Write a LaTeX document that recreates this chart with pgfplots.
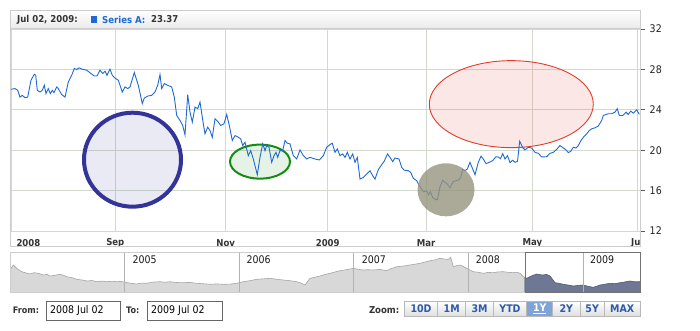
\documentclass[border=0pt]{standalone}
\usepackage{pgfplots}
\pgfplotsset{compat=1.18}
\usepackage{fontspec}
\setmainfont{DejaVu Sans Condensed}
\definecolor{serA}{RGB}{30,105,210}
\definecolor{gridc}{RGB}{212,217,208}
\definecolor{framec}{RGB}{205,205,205}
\definecolor{txt}{RGB}{51,51,51}
\definecolor{btnblue}{RGB}{45,90,170}
\definecolor{selbg}{RGB}{128,164,217}
\definecolor{scrsel}{RGB}{110,120,148}
\definecolor{scrfill}{RGB}{216,216,216}
\definecolor{scrline}{RGB}{165,165,165}
\definecolor{circB}{RGB}{51,51,153}
\definecolor{circG}{RGB}{20,140,20}
\definecolor{circR}{RGB}{225,60,40}
\definecolor{circK}{RGB}{150,148,126}
\begin{document}
\begin{tikzpicture}[x=1pt,y=1pt]
\path[use as bounding box] (0,0) rectangle (700,330);
% header bar
\shade[top color=white, bottom color=black!8] (10.7,301.7) rectangle (640.7,320);
\begin{axis}[
  at={(11pt,99pt)}, anchor=south west,
  width=629.7pt, height=202pt, scale only axis,
  xmin=11, xmax=640.7, ymin=12, ymax=32,
  axis line style={draw=none},
  /pgf/number format/assume math mode=true,
  xtick={115.3,225.7,327.7,426,532.3,637.3},
  xticklabels={Sep,Nov,2009,Mar,May,Jul},
  extra x ticks={11}, extra x tick labels={2008},
  extra x tick style={xticklabel style={anchor=west, xshift=2pt}},
  x tick style={draw=none},
  xticklabel style={font=\bfseries\fontsize{9.5}{10}\selectfont, color=txt, anchor=center, yshift=-7.5pt},
  ytick={12,16,...,32},
  yticklabel pos=right, ytick pos=right, tick align=outside,
  major tick length=4.5pt,
  y tick style={color=black!65, line width=0.8pt},
  yticklabel style={font=\fontsize{10.5}{11}\selectfont, color=black!87, xshift=1pt},
  grid=major, major grid style={gridc, line width=0.9pt},
  clip=false,
]
% annotations beneath the series
\draw[circB, line width=4pt, fill=circB, fill opacity=0.1] (axis cs:132.5,19.06) ellipse [x radius=48.5pt, y radius=47pt];
\draw[circG, line width=2pt, fill=circG, fill opacity=0.11] (axis cs:260,18.87) ellipse [x radius=30pt, y radius=17pt];
\draw[circR, line width=0.9pt, fill=circR, fill opacity=0.12] (axis cs:511.3,24.56) ellipse [x radius=82pt, y radius=43.5pt];
\addplot[serA, line width=0.9pt, mark=none] coordinates {
(11,26.03)(15,26.10)(17.7,25.93)(20,25.26)(22.3,25.43)(25,25.20)(27.7,25.26)(31,26.93)
(34.3,27.52)(35.7,27.42)(37.3,25.93)(40,25.76)(42.3,25.93)(44.3,26.43)(46,25.60)(48.3,26.10)
(50.3,25.60)(52.3,25.93)(54,25.70)(56.7,26.26)(58.3,26.10)(61.7,25.50)(65,25.26)(68.3,26.76)
(71.7,27.42)(74.3,28.09)(76.7,27.99)(79,28.15)(82.3,28.02)(86.7,27.92)(91,27.59)(94.3,27.35)
(97,27.35)(100,27.92)(102.7,27.59)(105,27.82)(107,27.42)(110,28.02)(112.3,27.42)(115.7,27.09)
(118.3,26.93)(122.3,25.76)(125,26.26)(127.7,26.10)(130,26.26)(134.3,27.69)(138.3,26.43)(142.3,24.61)
(144.3,25.16)(147.7,25.36)(151.7,25.43)(155,25.76)(157.7,26.43)(160,27.49)(161.7,26.10)(164.3,26.60)
(167.7,26.43)(171.7,26.26)(174.3,25.26)(176.7,23.44)(180,22.94)(182.7,22.45)(185,21.52)(187.7,25.50)
(190,23.77)(192.3,22.78)(195,24.27)(197.7,24.11)(200,24.77)(203.3,22.62)(205,21.62)(207.7,22.28)
(210,21.95)(212.3,21.28)(215,23.11)(218.3,22.78)(220.7,22.45)(224,22.62)(226.7,23.54)(229.3,22.45)
(232.3,20.96)(235,21.45)(238.3,21.28)(240.7,21.12)(242.7,20.46)(245,20.79)(248.3,19.46)(250.7,19.96)
(253.3,19.13)(257.3,17.57)(260,19.29)(262.7,20.63)(265,19.96)(266.7,20.46)(269,20.29)(271.7,18.80)
(274,19.46)(276,19.79)(277.7,19.29)(280,19.96)(282.7,19.96)(285,20.96)(287.3,20.69)(290,20.63)
(293.3,19.46)(296.7,19.13)(300,20.03)(303.3,19.46)(306.7,19.13)(310,19.29)(315,19.13)(319.3,19.03)
(323.3,19.46)(326.7,20.29)(330,20.56)(332.3,20.69)(335,19.79)(337.3,20.13)(340,19.46)(342.7,19.63)
(345,19.29)(347.3,19.79)(350,19.13)(352.7,19.63)(355,18.80)(357.3,19.29)(360,17.14)(363.3,17.30)
(366.7,17.64)(370,17.97)(372.7,17.47)(375,17.14)(378.3,18.07)(381.7,18.57)(384.3,18.92)(387.5,19.63)
(390,19.29)(392.7,18.87)(395,19.23)(399,19.13)(401.7,18.30)(404.2,18.02)(408.3,17.97)(410.7,17.80)
(413.3,17.22)(416.7,16.98)(419.3,16.48)(423.5,15.88)(426.7,15.98)(428.5,15.58)(430.5,15.88)(432.7,15.31)
(435,15.15)(437.3,15.08)(440,16.38)(442.7,17.04)(445,16.81)(447.3,16.65)(450,16.28)(453,16.88)
(456,16.98)(459,17.08)(460.7,17.30)(462.7,18.12)(465,17.97)(467.3,18.14)(470,18.80)(472.7,18.14)
(475,17.57)(478.3,18.80)(481,19.41)(483.3,19.13)(486,18.67)(489.3,18.80)(492.7,18.97)(496,19.36)
(498.5,19.31)(500.5,19.16)(502.7,19.66)(505,19.13)(507.5,19.46)(510,18.77)(512.7,19.01)(515,18.80)
(517.5,18.90)(519.7,20.89)(522.7,20.26)(525,20.03)(528.3,20.29)(531.7,20.21)(535,19.79)(538.3,19.69)
(541.7,19.33)(546.7,19.36)(550,19.69)(553.3,19.79)(556.7,20.09)(560,20.46)(563.3,20.23)(566,20.03)
(568.3,19.76)(570.7,19.89)(573.3,20.29)(576,20.21)(578.3,20.46)(580.7,20.91)(583.3,21.28)(586.7,21.62)
(589.3,21.95)(591.7,22.12)(595,22.22)(598.3,22.40)(601.7,22.95)(603.3,23.44)(606,23.54)(608.3,23.61)
(611.7,23.61)(615,23.77)(617.3,24.11)(619.3,23.44)(622.7,23.44)(626,23.77)(628.3,23.54)(630.7,23.87)
(633.3,23.67)(636.7,24.01)(639.3,23.54)
};
\fill[circK, fill opacity=0.8] (axis cs:446,16.08) ellipse [x radius=28.5pt, y radius=26.5pt];
\end{axis}
% cover clipped label, frame
\fill[white] (641.1,84.5) rectangle (650,98.5);
\draw[framec, line width=0.8pt] (10.7,84) rectangle (640.7,320);
\draw[framec, line width=0.8pt] (10.7,301.7) -- (640.7,301.7);
% header text
\node[anchor=west, inner sep=0, font=\bfseries\fontsize{9.5}{10}\selectfont, txt] at (17,310.5) {Jul 02, 2009:};
\fill[serA] (91,307.3) rectangle (97.3,313.6);
\node[anchor=west, inner sep=0, font=\bfseries\fontsize{9.5}{10}\selectfont, serA] at (102,310.5) {Series A:};
\node[anchor=west, inner sep=0, font=\bfseries\fontsize{9.5}{10}\selectfont, txt] at (151,310.5) {23.37};
% scroller
\begin{axis}[
  at={(10.3pt,37.7pt)}, anchor=south west,
  width=630.4pt, height=40pt, scale only axis,
  xmin=10.3, xmax=640.7, ymin=0, ymax=40,
  axis lines=none, xtick=\empty, ytick=\empty,
]
\addplot[fill=scrfill, draw=scrline, line width=0.6pt] coordinates {
(10.3,23)(13.3,27.3)(16.7,24.0)(21.7,20.6)(26,19.4)(30,18.3)(34,19.6)(38.3,19.0)(43.3,17.3)
(47,17.9)(50,16.3)(55,17.0)(60,18.0)(63,17.2)(66.7,15.6)(72,14.6)(76.7,13.0)(82,12.3)(86.7,11.3)
(92,11.8)(96.7,10.6)(102,11.2)(106.7,10.6)(112,11.0)(116.7,10.6)(121,10.9)(125,10.0)(131,9.0)
(136.7,8.3)(141,9.2)(146.7,9.0)(153,10.2)(160,10.6)(165,10.1)(170,10.6)(177,9.8)(183.3,9.6)
(190,9.9)(196.7,9.0)(203,8.6)(210,8.0)(216,8.4)(223.3,8.0)(230,8.2)(236.7,9.0)(243.3,10.6)
(250,11.6)(256.7,13.0)(263,13.4)(270,14.0)(276,13.1)(283.3,12.3)(290,11.6)(296.7,10.6)(301,9.3)
(305,7.3)(310,14.0)(315,15.1)(320,16.3)(325,17.8)(330,19.0)(335,20.3)(340,21.6)(346,22.5)
(353.3,24.0)(358,23.0)(363.3,22.3)(368,22.6)(373.3,22.3)(380,22.9)(386.7,21.6)(391,23.6)
(396.7,25.6)(403,26.2)(410,27.3)(415,28.1)(420,29.0)(425,30.2)(430,31.6)(435,32.4)(440,34.0)
(444,33.3)(448.3,33.0)(450.7,35.0)(453.3,25.6)(456,26.4)(460,27.3)(463,25.9)(466.7,24.0)
(470,22.3)(473.3,20.6)(478,20.1)(483.3,19.0)(488,19.9)(493.3,19.6)(498,20.4)(503.3,20.6)
(508,20.0)(513.3,19.6)(517,20.1)(520,19.0)(523.3,15.6)(525,15.0)
} \closedcycle;
\addplot[fill=scrsel, draw=scrsel!75!black, line width=0.6pt] coordinates {
(525,15.0)(526.7,14.0)(530,15.6)(533,17.0)(536.7,18.3)(540,17.6)(543.3,17.3)(546.5,17.9)
(550,16.3)(552.5,13.0)(555,9.6)(559,9.0)(563.3,8.0)(568,7.3)(573.3,6.3)(578,6.9)(583.3,7.3)
(588,6.0)(593.3,5.0)(597,6.2)(600,7.3)(605,8.1)(610,9.0)(615,8.6)(620,9.6)(625,10.4)(630,11.3)
(635,10.5)(640.7,10.6)
} \closedcycle;
\end{axis}
\foreach \xx in {124,239.5,353.3,468.3,583.3} {\draw[black!30, line width=0.8pt] (\xx,37.7) -- (\xx,77.7);}
\foreach \xx/\yy in {132.3/2005,246.3/2006,361.7/2007,475.7/2008,590/2009}
  {\node[anchor=west, inner sep=0, font=\fontsize{10.5}{11}\selectfont, black!90] at (\xx,70) {\yy};}
\draw[framec, line width=0.8pt] (10.3,37.7) rectangle (640.7,77.7);
\draw[black!55, line width=0.9pt] (525,37.7) rectangle (640.7,77.7);
% range inputs
\node[anchor=west, inner sep=0, font=\bfseries\fontsize{9}{10}\selectfont, txt] at (12.7,19.5) {From:};
\draw[black!60, line width=0.8pt, fill=white] (46,10) rectangle (120.7,29);
\node[anchor=west, inner sep=0, font=\fontsize{10.5}{11}\selectfont, black] at (50,19.5) {2008 Jul 02};
\node[anchor=west, inner sep=0, font=\bfseries\fontsize{9}{10}\selectfont, txt] at (126,19.5) {To:};
\draw[black!60, line width=0.8pt, fill=white] (147.3,10) rectangle (222.3,29);
\node[anchor=west, inner sep=0, font=\fontsize{10.5}{11}\selectfont, black] at (151,19.5) {2009 Jul 02};
% zoom buttons
\node[anchor=east, inner sep=0, font=\bfseries\fontsize{9.5}{10}\selectfont, txt] at (399.5,20) {Zoom:};
\foreach \a/\b/\t in {404.3/437.7/10D,437.7/465.7/1M,465.7/493.3/3M,493.3/526.7/YTD,552.7/580/2Y,580/604.3/5Y,604.3/640/MAX}{
  \shade[top color=white, bottom color=black!13] (\a,13.3) rectangle (\b,29);
  \draw[black!28, line width=0.7pt] (\a,13.3) rectangle (\b,29);
  \node[inner sep=0, font=\bfseries\fontsize{10.5}{11}\selectfont, btnblue] at ({(\a+\b)/2},21.2) {\t};
}
\fill[selbg] (526.7,13.3) rectangle (552.7,29);
\draw[black!28, line width=0.7pt] (526.7,13.3) rectangle (552.7,29);
\node[inner sep=0, font=\bfseries\fontsize{10.5}{11}\selectfont, white] at (539.7,21.2) {\underline{1Y}};
\end{tikzpicture}
\end{document}
